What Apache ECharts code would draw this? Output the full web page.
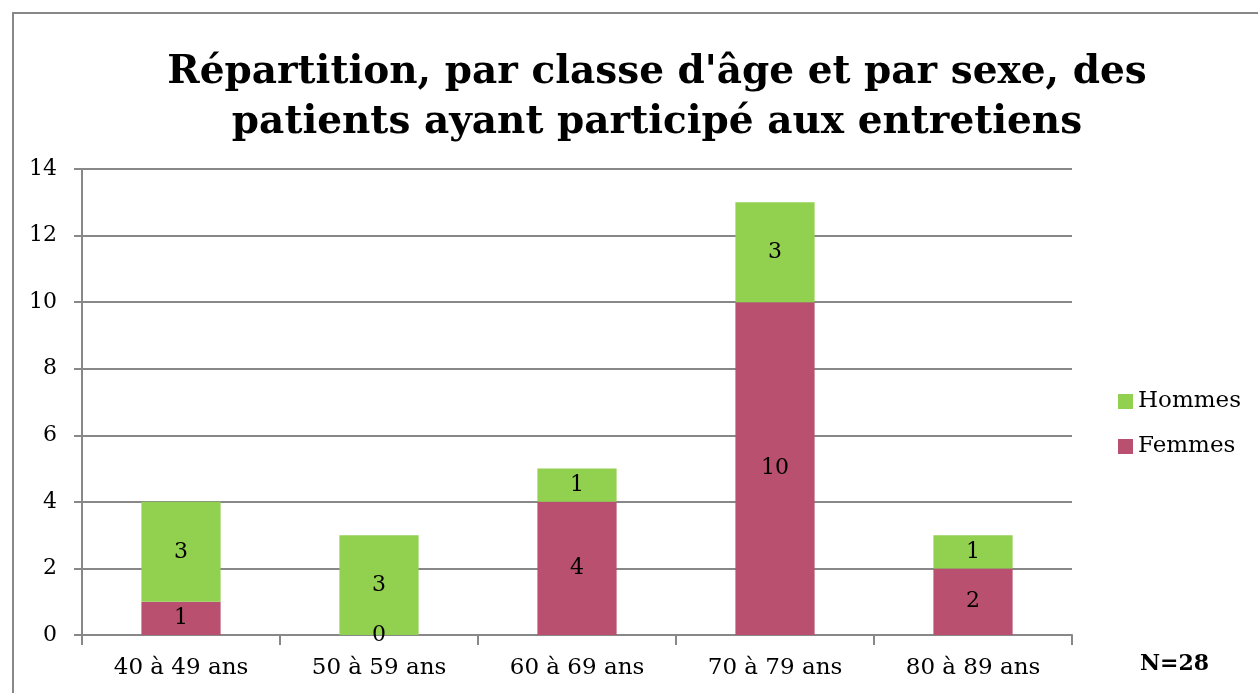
<!DOCTYPE html>
<html lang="fr">
<head>
  <meta charset="UTF-8">
  <title>Répartition par classe d'âge et par sexe</title>
  <style>
    html, body { margin: 0; padding: 0; background: #fff; }
  </style>
</head>
<body>
  <div id="chart" style="width: 1258px; height: 693px;"></div>
  <script src="https://cdn.jsdelivr.net/npm/echarts@6/dist/echarts.min.js"></script>
  <script>
    const categories = ['40 à 49 ans', '50 à 59 ans', '60 à 69 ans', '70 à 79 ans', '80 à 89 ans'];
    const femmes = [1, 0, 4, 10, 2];
    const hommes = [3, 3, 1, 3, 1];
    const serif = 'DejaVu Serif';

    const chart = echarts.init(document.getElementById('chart'));
    chart.setOption({
      animation: false,
      textStyle: { fontFamily: serif, color: '#000' },
      title: {
        text: "Répartition, par classe d'âge et par sexe, des\npatients ayant participé aux entretiens",
        left: 652,
        top: 43,
        textAlign: 'center',
        textStyle: { fontFamily: serif, fontSize: 39, fontWeight: 'bold', lineHeight: 50, color: '#000' }
      },
      legend: {
        orient: 'vertical',
        left: 1113,
        top: 385,
        icon: 'rect',
        itemWidth: 15,
        itemHeight: 15,
        itemGap: 22,
        data: ['Hommes', 'Femmes'],
        textStyle: { fontFamily: serif, fontSize: 23, color: '#000' }
      },
      grid: { left: 82, right: 186, top: 169, bottom: 58 },
      xAxis: {
        type: 'category',
        data: categories,
        axisLine: { lineStyle: { color: '#888', width: 2 } },
        axisTick: { show: true, length: 10, lineStyle: { color: '#888', width: 2 } },
        axisLabel: { fontFamily: serif, fontSize: 23, color: '#000', margin: 22 }
      },
      yAxis: {
        type: 'value',
        min: 0,
        max: 14,
        interval: 2,
        axisLine: { show: true, lineStyle: { color: '#888', width: 2 } },
        axisTick: { show: true, length: 8, lineStyle: { color: '#888', width: 2 } },
        axisLabel: { fontFamily: serif, fontSize: 22, color: '#000', margin: 25 },
        splitLine: { lineStyle: { color: '#888', width: 2 } }
      },
      series: [
        {
          name: 'Femmes',
          type: 'bar',
          stack: 'total',
          data: femmes,
          barCategoryGap: '60%',
          itemStyle: { color: '#B9506F' },
          label: { show: true, position: 'inside', fontFamily: serif, fontSize: 22, color: '#000' }
        },
        {
          name: 'Hommes',
          type: 'bar',
          stack: 'total',
          data: hommes,
          barCategoryGap: '60%',
          itemStyle: { color: '#92D050' },
          label: { show: true, position: 'inside', fontFamily: serif, fontSize: 22, color: '#000' }
        }
      ],
      graphic: [
        {
          type: 'rect',
          shape: { x: 13, y: 13, width: 1300, height: 720 },
          style: { fill: 'none', stroke: '#888', lineWidth: 2 },
          silent: true
        },
        {
          type: 'text',
          left: 1140,
          top: 653,
          style: { text: 'N=28', fontFamily: serif, fontSize: 22, fontWeight: 'bold', fill: '#000' }
        }
      ]
    });
  </script>
</body>
</html>
